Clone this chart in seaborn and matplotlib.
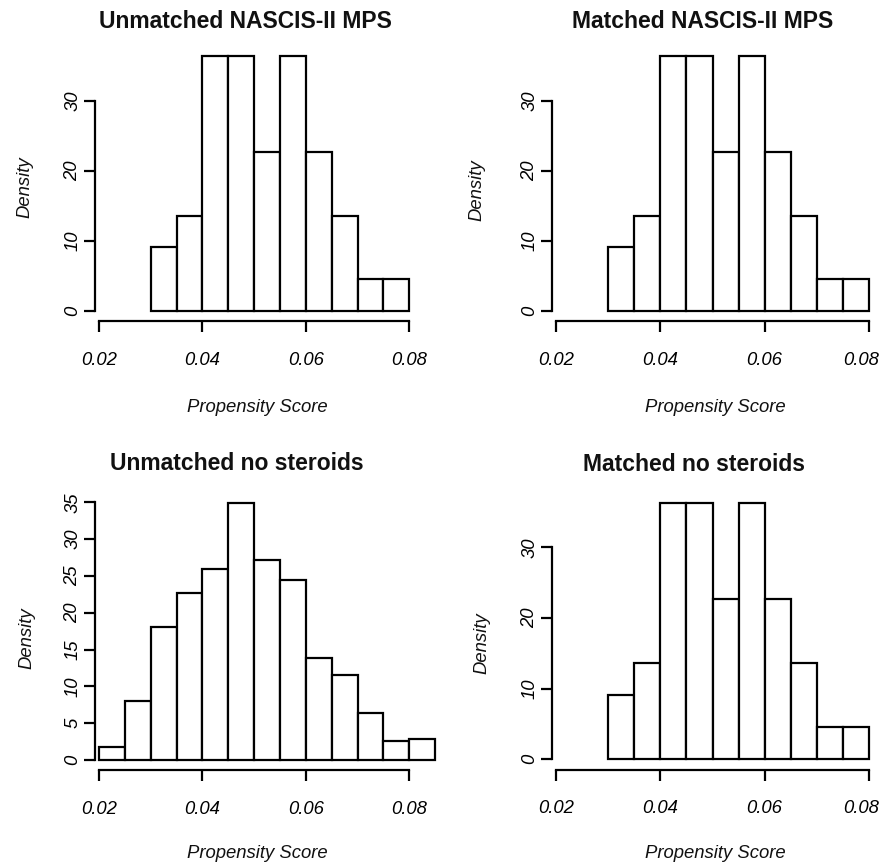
import matplotlib
matplotlib.use("Agg")
import matplotlib.pyplot as plt
import matplotlib.transforms as mtransforms
import seaborn as sns
import pandas as pd

sns.set_style("white")
plt.rcParams['font.family'] = ['Liberation Sans', 'DejaVu Sans']

# ---- data (density per bin) ----
edges_mps = [0.030, 0.035, 0.040, 0.045, 0.050, 0.055, 0.060, 0.065, 0.070, 0.075, 0.080]
dens_unmatched_mps = [9.09, 13.64, 36.36, 36.36, 22.73, 36.36, 22.73, 13.64, 4.55, 4.55]
dens_matched_mps = [9.09, 13.64, 36.36, 36.36, 22.73, 36.36, 22.73, 13.64, 4.55, 4.55]

edges_nos = [0.020, 0.025, 0.030, 0.035, 0.040, 0.045, 0.050, 0.055, 0.060, 0.065, 0.070, 0.075, 0.080, 0.085]
dens_unmatched_nos = [1.7, 8.0, 18.0, 22.7, 26.0, 34.9, 27.2, 24.5, 13.8, 11.5, 6.4, 2.6, 2.8]
dens_matched_nos = [9.09, 13.64, 36.36, 36.36, 22.73, 36.36, 22.73, 13.64, 4.55, 4.55]

titles = ["Unmatched NASCIS-II MPS", "Matched NASCIS-II MPS",
          "Unmatched no steroids", "Matched no steroids"]
x_ticks = [0.02, 0.04, 0.06, 0.08]
x_ticklabels = ["0.02", "0.04", "0.06", "0.08"]
y_ticks_a = [0, 10, 20, 30]
y_ticks_b = [0, 5, 10, 15, 20, 25, 30, 35]
xlabel = "Propensity Score"
ylabel = "Density"

W, H = 881, 864
fig = plt.figure(figsize=(W / 100, H / 100), dpi=100)
fig.patch.set_facecolor("white")

def add_ax(left, top, right, bottom):
    return fig.add_axes([left / W, 1 - bottom / H, (right - left) / W, (bottom - top) / H])

panels = [
    dict(box=(95, 46, 440, 321.2), xlim=(0.019227, 0.08593), ylim=(-1.457, 37.86),
         edges=edges_mps, dens=dens_unmatched_mps, yt=y_ticks_a, shift_last=0,
         tpos=(245.5, 22), xlpos=(257.5, 407), ylpos=(25, 187)),
    dict(box=(552, 46, 881, 321.2), xlim=(0.019174, 0.08236), ylim=(-1.457, 37.86),
         edges=edges_mps, dens=dens_matched_mps, yt=y_ticks_a, shift_last=-8,
         tpos=(702.3, 22), xlpos=(715.5, 407), ylpos=(477, 190)),
    dict(box=(95, 492, 440, 770.3), xlim=(0.019227, 0.08593), ylim=(-1.4, 36.4),
         edges=edges_nos, dens=dens_unmatched_nos, yt=y_ticks_b, shift_last=0,
         tpos=(237, 463), xlpos=(257.5, 853), ylpos=(26.5, 638)),
    dict(box=(552, 492, 881, 769.6), xlim=(0.019174, 0.08236), ylim=(-1.46, 37.86),
         edges=edges_mps, dens=dens_matched_nos, yt=y_ticks_a, shift_last=-8,
         tpos=(693.8, 464), xlpos=(715.5, 853), ylpos=(481.5, 643)),
]

for p, title in zip(panels, titles):
    ax = add_ax(*p["box"])
    e = p["edges"]
    centers = [(a + b) / 2 for a, b in zip(e[:-1], e[1:])]
    df = pd.DataFrame({"score": centers, "density": p["dens"]})
    sns.histplot(data=df, x="score", weights="density", bins=e, stat="count",
                 color="white", edgecolor="black", linewidth=1.6, alpha=1.0, ax=ax)
    ax.set_xlim(*p["xlim"])
    ax.set_ylim(*p["ylim"])
    ax.set_facecolor("white")
    for s in ("top", "right"):
        ax.spines[s].set_visible(False)
    for s in ("left", "bottom"):
        ax.spines[s].set_linewidth(1.6)
        ax.spines[s].set_color("black")
    ax.spines["bottom"].set_bounds(0.02, 0.08)
    ax.spines["left"].set_bounds(p["yt"][0], p["yt"][-1])
    ax.set_xticks(x_ticks)
    ax.set_xticklabels(x_ticklabels, fontsize=13.3, style="italic")
    ax.set_yticks(p["yt"])
    ax.set_yticklabels([str(v) for v in p["yt"]], fontsize=13.3, style="italic",
                       rotation=90, va="center")
    ax.tick_params(axis="x", bottom=True, direction="out", length=7.9, width=1.6,
                   pad=14, colors="black")
    ax.tick_params(axis="y", left=True, direction="out", length=7.9, width=1.6,
                   pad=2, colors="black")
    if p["shift_last"]:
        lab = ax.get_xticklabels()[-1]
        lab.set_transform(lab.get_transform() + mtransforms.ScaledTranslation(
            p["shift_last"] / 100, 0, fig.dpi_scale_trans))
    ax.set_xlabel("")
    ax.set_ylabel("")
    ax.grid(False)
    fig.text(p["tpos"][0] / W, 1 - p["tpos"][1] / H, title, ha="center", va="center",
             fontsize=16.5, fontweight="bold", color="#111111")
    fig.text(p["xlpos"][0] / W, 1 - p["xlpos"][1] / H, xlabel, ha="center", va="center",
             fontsize=13.3, style="italic", color="#111111")
    fig.text(p["ylpos"][0] / W, 1 - p["ylpos"][1] / H, ylabel, ha="center", va="center",
             fontsize=13.3, style="italic", rotation=90, color="#111111")

fig.savefig("out.png", dpi=100, facecolor="white")
